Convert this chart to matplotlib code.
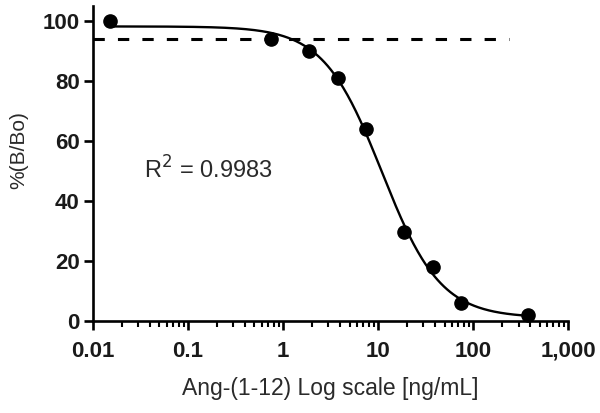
import numpy as np
import matplotlib
matplotlib.use("Agg")
import matplotlib.pyplot as plt
from matplotlib.ticker import FixedLocator, FixedFormatter, LogLocator, NullFormatter

plt.rcParams['font.family'] = ['Liberation Sans', 'DejaVu Sans']

# Data
conc = [0.015, 0.75, 1.875, 3.75, 7.5, 18.75, 37.5, 75, 375]
pct_b_bo = [100, 93.8, 89.9, 80.8, 63.8, 29.7, 17.8, 5.8, 1.9]
threshold = 93.7
threshold_end = 240
r2_label = "R$^2$ = 0.9983"
x_ticks = [0.01, 0.1, 1, 10, 100, 1000]
x_ticklabels = ["0.01", "0.1", "1", "10", "100", "1,000"]
y_ticks = [0, 20, 40, 60, 80, 100]

# 4-parameter logistic fit computed from the data points
x = np.array(conc, float)
y = np.array(pct_b_bo, float)
best = None
for lec in np.linspace(0.5, 1.5, 201):
    for h in np.linspace(0.6, 2.5, 191):
        s = 1.0 / (1.0 + (x / 10**lec) ** h)
        A = np.vstack([s, 1 - s]).T
        coef, res, *_ = np.linalg.lstsq(A, y, rcond=None)
        err = np.sum((A @ coef - y) ** 2)
        if best is None or err < best[0]:
            best = (err, lec, h, coef)
_, lec, h, (top, bottom) = best
xf = np.logspace(np.log10(conc[0]), np.log10(conc[-1]), 400)
sf = 1.0 / (1.0 + (xf / 10**lec) ** h)
yf = top * sf + bottom * (1 - sf)

fig = plt.figure(figsize=(6.0, 4.13), dpi=100)
ax = fig.add_axes([0.155, 0.2235, 0.792, 0.763])

ax.plot(xf, yf, color='black', lw=1.7, zorder=2)
ax.plot(conc, pct_b_bo, 'o', color='black', ms=9.5, zorder=3, clip_on=False)
ax.plot([x_ticks[0], threshold_end], [threshold, threshold], color='black', lw=2.2,
        dashes=(3.7, 4.3), zorder=1)

ax.set_xscale('log')
ax.set_xlim(0.01, 1000)
ax.set_ylim(0, 105)

ax.xaxis.set_major_locator(FixedLocator(x_ticks))
ax.xaxis.set_major_formatter(FixedFormatter(x_ticklabels))
ax.xaxis.set_minor_locator(LogLocator(base=10, subs=np.arange(2, 10), numticks=20))
ax.xaxis.set_minor_formatter(NullFormatter())
ax.set_yticks(y_ticks)

for sp in ['top', 'right']:
    ax.spines[sp].set_visible(False)
for sp in ['left', 'bottom']:
    ax.spines[sp].set_linewidth(1.9)

ax.tick_params(axis='both', which='major', length=6.5, width=1.9, labelsize=16,
               pad=3, labelcolor='#1a1a1a')
ax.tick_params(axis='x', which='major', pad=8)
ax.tick_params(axis='x', which='minor', length=4.5, width=1.5)
for lab in ax.get_xticklabels() + ax.get_yticklabels():
    lab.set_fontweight('bold')

ax.set_xlabel("Ang-(1-12) Log scale [ng/mL]", fontsize=16.5, color='#2a2a2a')
ax.set_ylabel("%(B/Bo)", fontsize=15, color='#2a2a2a')
ax.xaxis.set_label_coords(0.5, -0.18)
ax.yaxis.set_label_coords(-0.137, 0.54)

ax.text(0.034, 50.2, r2_label, fontsize=17, va='center', ha='left', color='#2a2a2a')

fig.savefig("out.png", dpi=100)
